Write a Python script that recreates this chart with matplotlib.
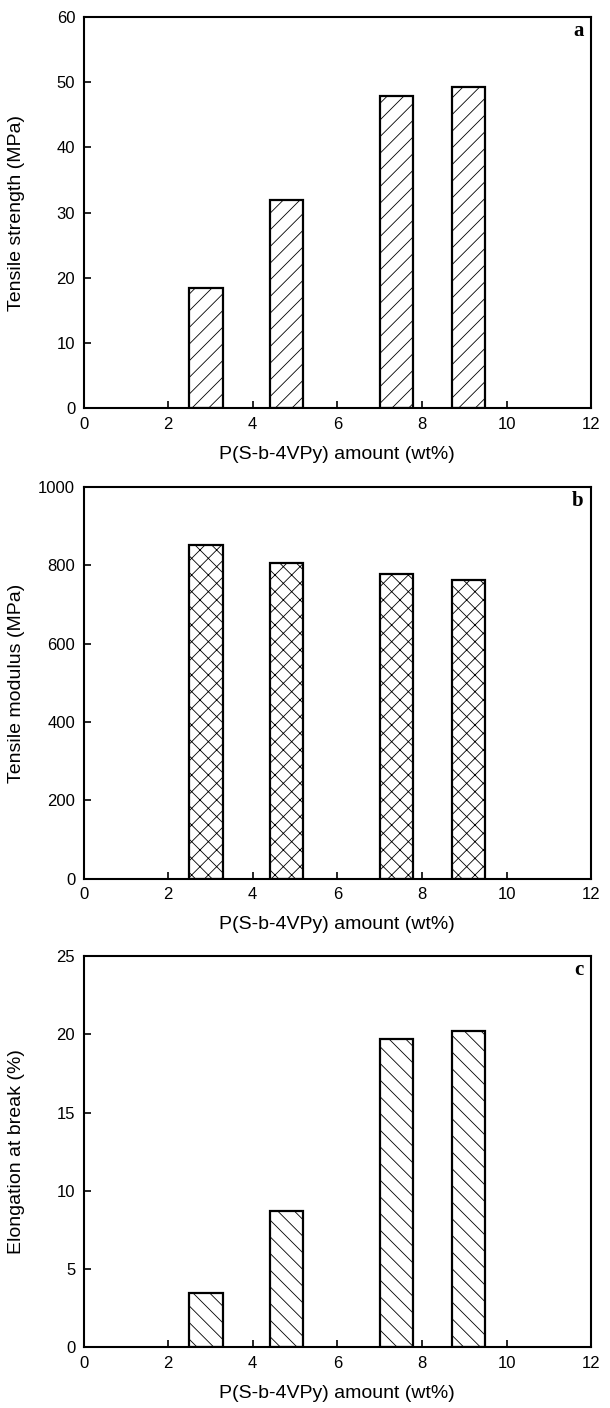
import matplotlib
matplotlib.use('Agg')
from matplotlib import pyplot as plt

# 数据
x_pos = [2.9, 4.8, 7.4, 9.1]
strength = [18.5, 32.0, 47.8, 49.2]
modulus = [852, 806, 778, 764]
elongation = [3.5, 8.7, 19.7, 20.2]

xlabel = 'P(S-b-4VPy) amount (wt%)'
ylabels = ['Tensile strength (MPa)', 'Tensile modulus (MPa)', 'Elongation at break (%)']
letters = ['a', 'b', 'c']
hatches = ['//', 'xx', '\\\\']
ylims = [60, 1000, 25]
ysteps = [10, 200, 5]

plt.rcParams['font.family'] = ['Liberation Sans', 'DejaVu Sans']
plt.rcParams['hatch.linewidth'] = 0.6

fig = plt.figure(figsize=(6.1, 14.08), dpi=100)

# 每个子图的位置 (left, bottom, width, height)
boxes = [
    [0.137, 0.710, 0.832, 0.278],
    [0.137, 0.376, 0.832, 0.278],
    [0.137, 0.043, 0.832, 0.278],
]

for i, vals in enumerate([strength, modulus, elongation]):
    ax = fig.add_axes(boxes[i])
    ax.bar(x_pos, vals, width=0.8, color='white', edgecolor='black',
           linewidth=1.6, hatch=hatches[i], zorder=2)
    ax.set_xlim(0, 12)
    ax.set_ylim(0, ylims[i])
    ax.set_xticks(range(0, 13, 2))
    ax.set_yticks([ysteps[i] * k for k in range(0, ylims[i] // ysteps[i] + 1)])
    ax.tick_params(direction='in', length=5, width=1.2, labelsize=12, pad=6)
    for sp in ax.spines.values():
        sp.set_linewidth(1.5)
    ax.set_xlabel(xlabel, fontsize=14)
    ax.set_ylabel(ylabels[i], fontsize=14)
    ax.xaxis.set_label_coords(0.5, -0.095)
    ax.yaxis.set_label_coords(-0.115, 0.5)
    ax.text(0.985, 0.99, letters[i], transform=ax.transAxes, ha='right', va='top',
            fontsize=15, fontweight='bold', family='Liberation Serif')

plt.savefig('out.png', dpi=100)
